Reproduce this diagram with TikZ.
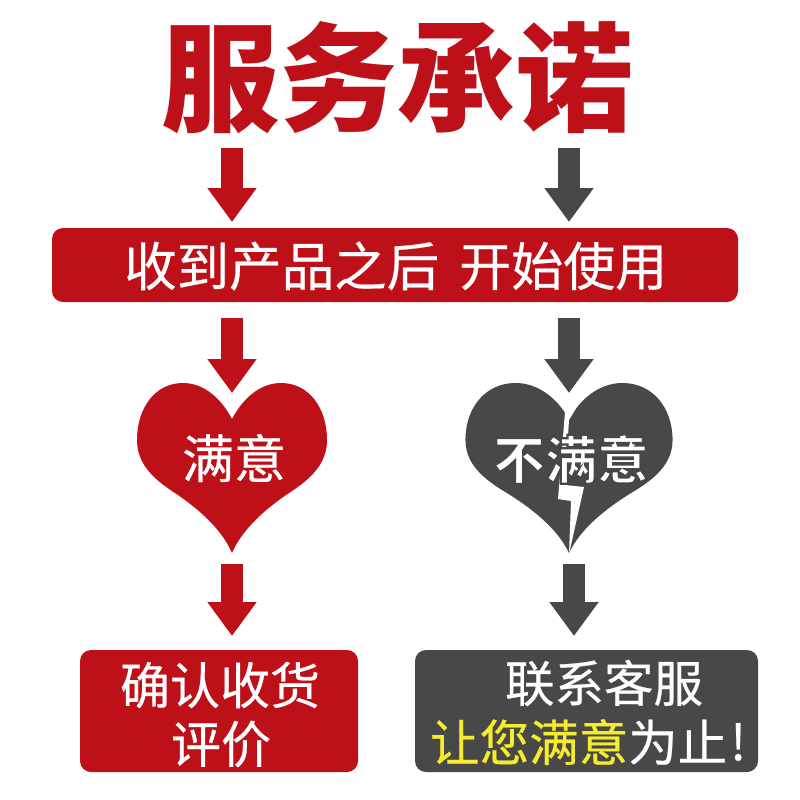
\documentclass[tikz,border=0pt]{standalone}
\usepackage{fontspec}
\setmainfont{Noto Sans CJK SC}
\newfontfamily\med[FakeBold=0.45]{Noto Sans CJK SC}
\usetikzlibrary{arrows.meta}
\definecolor{cred}{HTML}{BE1019}
\definecolor{cdark}{HTML}{484848}
\definecolor{cyel}{HTML}{F6EC2E}
\tikzset{
  x=1pt,y=-1pt,
  lab/.style={inner sep=0pt,text=white,font=\fontsize{#1}{#1}\selectfont\med},
  blockarrow/.style={line width=22pt,-{Triangle[width=47pt,length=34pt]}},
  box/.style={fill=#1,rounded corners=11pt}
}
\newcommand{\heartshape}{(0,419) .. controls (-10,400) and (-27,383) .. (-49,383) .. controls (-77,383) and (-95,408) .. (-95,440) .. controls (-95,467) and (-74,482) .. (-54,495) .. controls (-31,511) and (-10,530) .. (0,553) .. controls (10,530) and (31,511) .. (54,495) .. controls (74,482) and (95,467) .. (95,440) .. controls (95,408) and (77,383) .. (49,383) .. controls (27,383) and (10,400) .. (0,419) -- cycle}
\begin{document}
\begin{tikzpicture}
\useasboundingbox (0,0) rectangle (800,800);
\fill[white] (0,0) rectangle (800,800);
% title
\node[inner sep=0pt,text=cred,font=\fontsize{118}{118}\selectfont\bfseries] (title) at (397,78) {服务承诺};
% bar
\fill[box=cred] (52,228) rectangle (738,302);
\node[lab=52.5,anchor=west] (bar) at (124,266) {收到产品之后};
\node[lab=52,anchor=west] (bar2) at (459,266) {开始使用};
% hearts
\fill[cred,shift={(232,0)}] \heartshape;
\begin{scope}[shift={(569,0)},xscale=1.09]
\fill[cdark] \heartshape;
\end{scope}
\fill[white] (562,405) -- (578,405) -- (569,420) -- (565,485) -- (584,487) -- (569,554) -- (571,501) -- (558,499) -- (565,412) -- cycle;
\node[lab=52] (ok) at (234,458) {满意};
\node[inner sep=0pt,text=white,font=\fontsize{52}{52}\selectfont\bfseries] (notok) at (571,459) {\special{pdf:code 2 Tr 2.2 w 0.28 0.28 0.28 RG}不满意\special{pdf:code 0 Tr 1 w}};
% boxes
\fill[box=cred] (80,650) rectangle (358,772);
\fill[box=cdark] (415,650) rectangle (758,772);
\node[lab=50] (conf) at (220,685) {确认收货};
\node[lab=50] (rate) at (221,744) {评价};
\node[lab=49.5] (cont) at (604,683) {联系客服};
\node[lab=49.5,anchor=west] (line2) at (430,742) {\textcolor{cyel}{让您满意}为止};
\node[lab=49.5,anchor=west] (excl) at (730,742) {!};
% arrows
\coordinate (a1s) at (232,148); \coordinate (a1e) at (232,222);
\coordinate (b1s) at (569,148); \coordinate (b1e) at (569,222);
\coordinate (a2s) at (232,318); \coordinate (a2e) at (232,393);
\coordinate (b2s) at (569,318); \coordinate (b2e) at (569,393);
\coordinate (a3s) at (232,564); \coordinate (a3e) at (232,636);
\coordinate (b3s) at (574,564); \coordinate (b3e) at (574,636);
\draw[blockarrow,cred] (a1s) -- (a1e);
\draw[blockarrow,cdark] (b1s) -- (b1e);
\draw[blockarrow,cred] (a2s) -- (a2e);
\draw[blockarrow,cdark] (b2s) -- (b2e);
\draw[blockarrow,cred] (a3s) -- (a3e);
\draw[blockarrow,cdark] (b3s) -- (b3e);
\end{tikzpicture}
\end{document}
